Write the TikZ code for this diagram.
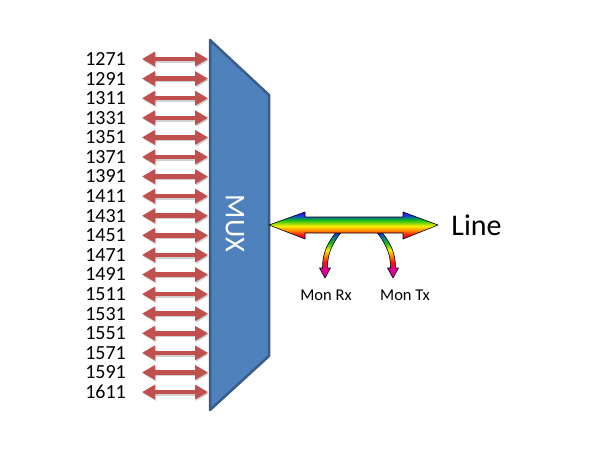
\documentclass[tikz,border=0pt]{standalone}
\usepackage{fontspec}
\setmainfont{Carlito}
\usetikzlibrary{arrows.meta}
\definecolor{arrred}{HTML}{C0504D}
\definecolor{muxfill}{HTML}{4F81BD}
\definecolor{muxline}{HTML}{385D8A}
\definecolor{rbmag}{RGB}{225,0,150}
\definecolor{rbred}{RGB}{250,10,20}
\definecolor{rborange}{RGB}{255,140,0}
\definecolor{rbyellow}{RGB}{250,240,0}
\definecolor{rbgreen}{RGB}{20,190,20}
\definecolor{rbblue}{RGB}{10,60,240}
\definecolor{rbviolet}{RGB}{90,0,210}
\pgfdeclareverticalshading{rainbowh}{100bp}{color(0bp)=(rbmag); color(25bp)=(rbmag); color(32bp)=(rbred); color(41bp)=(rborange); color(49bp)=(rbyellow); color(60bp)=(rbgreen); color(69bp)=(rbblue); color(75bp)=(rbviolet); color(100bp)=(rbviolet)}
\pgfdeclareverticalshading{rainbowv}{100bp}{color(0bp)=(rbmag); color(25bp)=(rbmag); color(35bp)=(rbmag); color(42bp)=(rbred); color(50bp)=(rborange); color(56bp)=(rbyellow); color(64bp)=(rbgreen); color(75bp)=(rbblue); color(100bp)=(rbblue)}
\tikzset{
  num/.style={anchor=east, inner sep=0pt, font=\fontsize{20}{20}\selectfont},
  redarr/.style={draw=arrred, line width=4.5pt, {Triangle[width=14pt,length=13pt]}-{Triangle[width=14pt,length=13pt]}},
  redshadow/.style={draw=black, opacity=0.18, line width=4.5pt, {Triangle[width=14pt,length=13pt]}-{Triangle[width=14pt,length=13pt]}},
  monlab/.style={inner sep=0pt, font=\fontsize{16.5}{16.5}\selectfont},
}
\begin{document}
\begin{tikzpicture}[x=1pt,y=-1pt]
\useasboundingbox (0,0) rectangle (610,450);
% wavelength labels and arrows
\foreach \w [count=\i from 0] in {1271,1291,1311,1331,1351,1371,1391,1411,1431,1451,1471,1491,1511,1531,1551,1571,1591,1611} {
  \pgfmathsetmacro{\yy}{59+\i*19.59}
  \node[num] (n\i) at (126,\yy) {\w};
  \coordinate (m\i) at (208,\yy);
  \draw[redshadow] ([xshift=17pt,yshift=-1.5pt]n\i.east) -- ([xshift=1pt,yshift=-1.5pt]m\i);
  \draw[redarr] ([xshift=16pt]n\i.east) -- (m\i);
}
% MUX
\filldraw[fill=muxfill, draw=muxline, line width=2.5pt, line join=round]
  (210,40) -- (269,95) -- (269,356) -- (210,410) -- cycle;
\node[text=white, rotate=-90, inner sep=0pt, font=\fontsize{28.5}{28.5}\selectfont] (mux) at (235,223.5) {MUX};
% monitor arrows
\shadedraw[shading=rainbowv, draw=black, line width=0.6pt, line join=round]
  (340.5,233) .. controls (330,247) and (327.5,256) .. (327.5,268) -- (330.5,268) -- (325,278) -- (319.5,268) -- (322.5,268) .. controls (322.5,255) and (326,245) .. (335.5,233) -- cycle;
\shadedraw[shading=rainbowv, draw=black, line width=0.6pt, line join=round]
  (377.5,233) .. controls (388,247) and (390.5,256) .. (390.5,268) -- (387.5,268) -- (393,278) -- (398.5,268) -- (395.5,268) .. controls (395.5,255) and (392,245) .. (382.5,233) -- cycle;
% line arrow
\shadedraw[shading=rainbowh, draw=black, line width=0.6pt, line join=miter]
  (269,225) -- (305,212) -- (305,217) -- (403,217) -- (403,212) -- (438,225) -- (403,239) -- (403,233) -- (305,233) -- (305,239) -- cycle;
\node[inner sep=0pt, font=\fontsize{30}{30}\selectfont] (line) at (476.5,225) {Line};
\node[monlab] (rx) at (326,295) {Mon Rx};
\node[monlab] (tx) at (405,295) {Mon Tx};
\end{tikzpicture}
\end{document}
